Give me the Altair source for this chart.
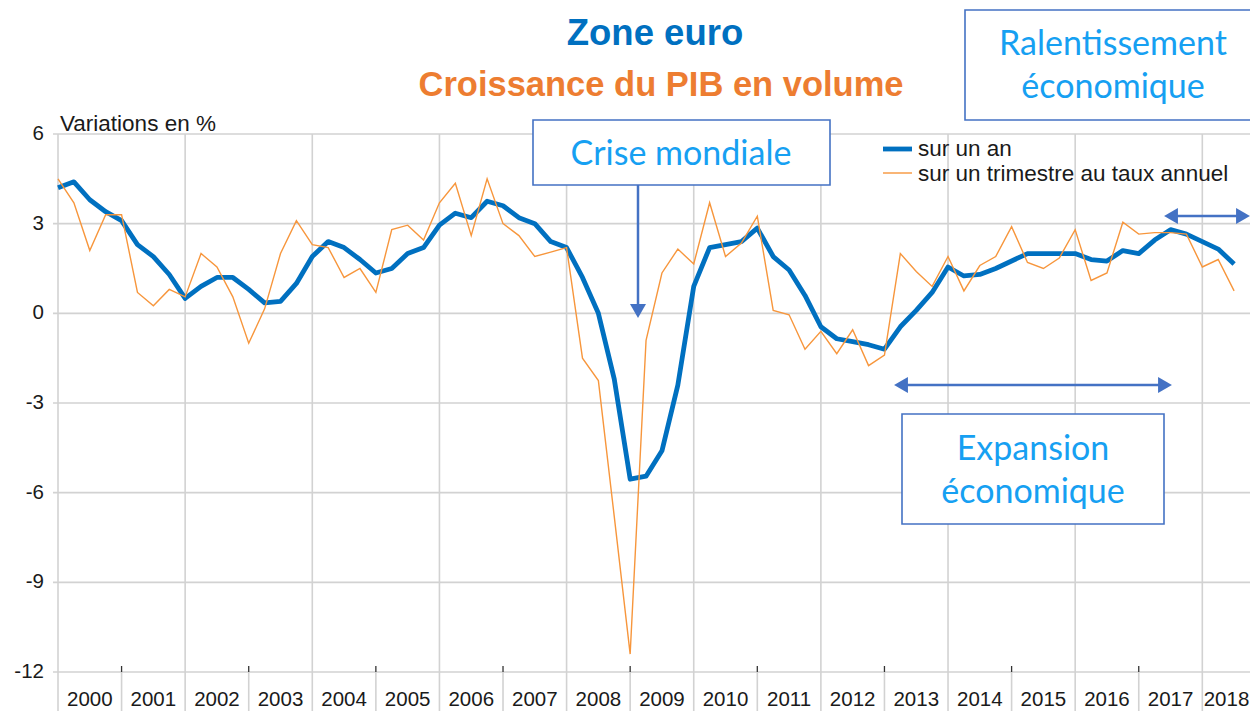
import altair as alt
import pandas as pd

# ---------------- data ----------------
first_year = 2000
years = list(range(2000, 2019))
year_labels = [str(y) for y in years]
y_ticks = [-12, -9, -6, -3, 0, 3, 6]
y_tick_labels = ["-12", "-9", "-6", "-3", "0", "3", "6"]
grid_years = [2000, 2002, 2004, 2006, 2008, 2010, 2012, 2014, 2016, 2018]

# growth over one year (quarterly, 2000Q1 .. 2018Q3)
sur_un_an = [
    4.2, 4.4, 3.8, 3.4,
    3.1, 2.3, 1.9, 1.3,
    0.5, 0.9, 1.2, 1.2,
    0.8, 0.35, 0.4, 1.0,
    1.9, 2.4, 2.2, 1.8,
    1.35, 1.5, 2.0, 2.2,
    2.95, 3.35, 3.2, 3.75,
    3.6, 3.2, 3.0, 2.4,
    2.2, 1.2, 0.0, -2.2,
    -5.55, -5.45, -4.6, -2.4,
    0.9, 2.2, 2.3, 2.4,
    2.85, 1.9, 1.45, 0.6,
    -0.45, -0.85, -0.95, -1.05,
    -1.2, -0.45, 0.1, 0.7,
    1.55, 1.25, 1.3, 1.5,
    1.75, 2.0, 2.0, 2.0,
    2.0, 1.8, 1.75, 2.1,
    2.0, 2.45, 2.8, 2.65,
    2.4, 2.15, 1.65,
]
# growth over one quarter, annualised
sur_un_trimestre = [
    4.5, 3.7, 2.1, 3.3,
    3.3, 0.7, 0.25, 0.8,
    0.55, 2.0, 1.55, 0.55,
    -1.0, 0.15, 2.0, 3.1,
    2.3, 2.2, 1.2, 1.5,
    0.7, 2.8, 2.95, 2.45,
    3.7, 4.35, 2.6, 4.5,
    3.0, 2.6, 1.9, 2.05,
    2.2, -1.5, -2.25, -6.8,
    -11.4, -0.9, 1.35, 2.15,
    1.65, 3.7, 1.9, 2.35,
    3.25, 0.1, -0.05, -1.2,
    -0.6, -1.35, -0.55, -1.75,
    -1.4, 2.0, 1.4, 0.9,
    1.9, 0.75, 1.6, 1.9,
    2.9, 1.7, 1.5, 1.85,
    2.8, 1.1, 1.35, 3.05,
    2.65, 2.7, 2.7, 2.65,
    1.55, 1.8, 0.75,
]

# ---------------- layout / style ----------------
W, H = 1192, 538
X_END = 2018.75
BLUE = "#0070C0"
ORANGE = "#F7963C"
TITLE_ORANGE = "#ED7D31"
BOX = "#4472C4"
ANN = "#16A0F2"
GRID = "#d2d2d2"
TEXT = "#1a1a1a"
FONT = "Liberation Sans"
ANN_FONT = "Lato"

df = pd.DataFrame({
    "t": [first_year + i / 4 for i in range(len(sur_un_an))],
    "an": sur_un_an,
    "trim": sur_un_trimestre,
})
years_df = pd.DataFrame({"year": years, "label": year_labels})
# label sits in the middle of its year (last year: middle of its visible part, kept inside)
years_df["mid"] = [min(y + 0.5, X_END - 0.37) for y in years]
grid_df = pd.DataFrame({"year": grid_years})
odd_df = pd.DataFrame({"year": [y for y in years if y % 2 == 1]})
yt_df = pd.DataFrame({"v": y_ticks, "label": y_tick_labels})
one = pd.DataFrame({"a": [0]})

xs = alt.Scale(domain=[2000, X_END], nice=False, zero=False)
ys = alt.Scale(domain=[-12, 6], nice=False, zero=False)

hgrid = alt.Chart(yt_df).mark_rule(color=GRID, strokeWidth=1.6).encode(
    y=alt.Y("v:Q", scale=ys, axis=None),
    x=alt.value(-5), x2=alt.value(W))

ytext = alt.Chart(yt_df).mark_text(
    font=FONT, fontSize=20.5, color=TEXT, align="right", baseline="middle"
).encode(
    y=alt.Y("v:Q", scale=ys, axis=None),
    x=alt.value(-14),
    text="label:N")

vgrid = alt.Chart(grid_df).mark_rule(color=GRID, strokeWidth=1.6).encode(
    x=alt.X("year:Q", scale=xs, axis=None),
    y=alt.value(0), y2=alt.value(H))

seps = alt.Chart(years_df).mark_rule(color=GRID, strokeWidth=1.6).encode(
    x=alt.X("year:Q", scale=xs, axis=None),
    y=alt.value(H), y2=alt.value(H + 60))

ticks = alt.Chart(odd_df).mark_rule(color="#333333", strokeWidth=1.3).encode(
    x=alt.X("year:Q", scale=xs, axis=None),
    y=alt.value(H - 6), y2=alt.value(H))

xlabels = alt.Chart(years_df).mark_text(
    font=FONT, fontSize=20.5, color=TEXT, baseline="middle", align="center"
).encode(
    x=alt.X("mid:Q", scale=xs, axis=None),
    y=alt.value(H + 28),
    text="label:N")

line_an = alt.Chart(df).mark_line(color=BLUE, strokeWidth=4.8, strokeJoin="round").encode(
    x=alt.X("t:Q", scale=xs, axis=None),
    y=alt.Y("an:Q", scale=ys, axis=None))

line_tr = alt.Chart(df).mark_line(color=ORANGE, strokeWidth=1.4).encode(
    x=alt.X("t:Q", scale=xs, axis=None),
    y=alt.Y("trim:Q", scale=ys, axis=None))


def txt(s, x, y, size, color, font=FONT, weight="normal", align="center", baseline="alphabetic"):
    return alt.Chart(one).mark_text(text=s, font=font, fontSize=size, color=color,
                                    fontWeight=weight, align=align, baseline=baseline).encode(
        x=alt.value(x), y=alt.value(y))


def box(x1, x2, y1, y2):
    return alt.Chart(one).mark_rect(fill="white", stroke=BOX, strokeWidth=1.6).encode(
        x=alt.value(x1), x2=alt.value(x2), y=alt.value(y1), y2=alt.value(y2))


def seg(x1, x2, y1, y2, color=BOX, width=2.5):
    return alt.Chart(one).mark_rule(color=color, strokeWidth=width).encode(
        x=alt.value(x1), x2=alt.value(x2), y=alt.value(y1), y2=alt.value(y2))


def head(x, y, shape, size=256):
    return alt.Chart(one).mark_point(shape=shape, size=size, filled=True, color=BOX,
                                     opacity=1, strokeWidth=0).encode(
        x=alt.value(x), y=alt.value(y))


layers = [
    hgrid, vgrid, seps, ticks, xlabels, ytext,
    line_an, line_tr,
    # titles
    txt("Zone euro", 597, -89, 36.5, BLUE, weight="bold"),
    txt("Croissance du PIB en volume", 603, -38, 34.5, TITLE_ORANGE, weight="bold"),
    txt("Variations en %", 2, -3, 22.5, TEXT, align="left"),
    # legend
    seg(825, 854, 15, 15, color=BLUE, width=4.8),
    seg(825, 854, 39, 39, color=ORANGE, width=1.4),
    txt("sur un an", 860, 15, 22.5, TEXT, align="left", baseline="middle"),
    txt("sur un trimestre au taux annuel", 860, 40, 22.5, TEXT, align="left", baseline="middle"),
    # crise mondiale
    seg(580, 580, 51, 171),
    head(580, 177, "triangle-down"),
    box(475, 772, -14, 51),
    txt("Crise mondiale", 623, 31, 34, ANN, font=ANN_FONT),
    # expansion
    seg(842, 1108, 251, 251),
    head(843, 251, "triangle-left"),
    head(1107, 251, "triangle-right"),
    box(844, 1106, 280, 390),
    txt("Expansion", 975, 326, 34, ANN, font=ANN_FONT),
    txt("économique", 975, 369, 34, ANN, font=ANN_FONT),
    # ralentissement
    seg(1112, 1186, 82, 82),
    head(1113, 82, "triangle-left"),
    head(1185, 82, "triangle-right"),
    box(907, 1215, -124, -14),
    txt("Ralentissement", 1055, -79, 34, ANN, font=ANN_FONT),
    txt("économique", 1055, -36, 34, ANN, font=ANN_FONT),
]

chart = alt.layer(*layers).properties(
    width=W, height=H,
    padding={"left": 50, "top": 126, "right": 0, "bottom": 46},
    autosize=alt.AutoSizeParams(type="none"),
).configure_view(stroke=None)

chart.save("out.html", embed_options={"renderer": "svg", "actions": False})
